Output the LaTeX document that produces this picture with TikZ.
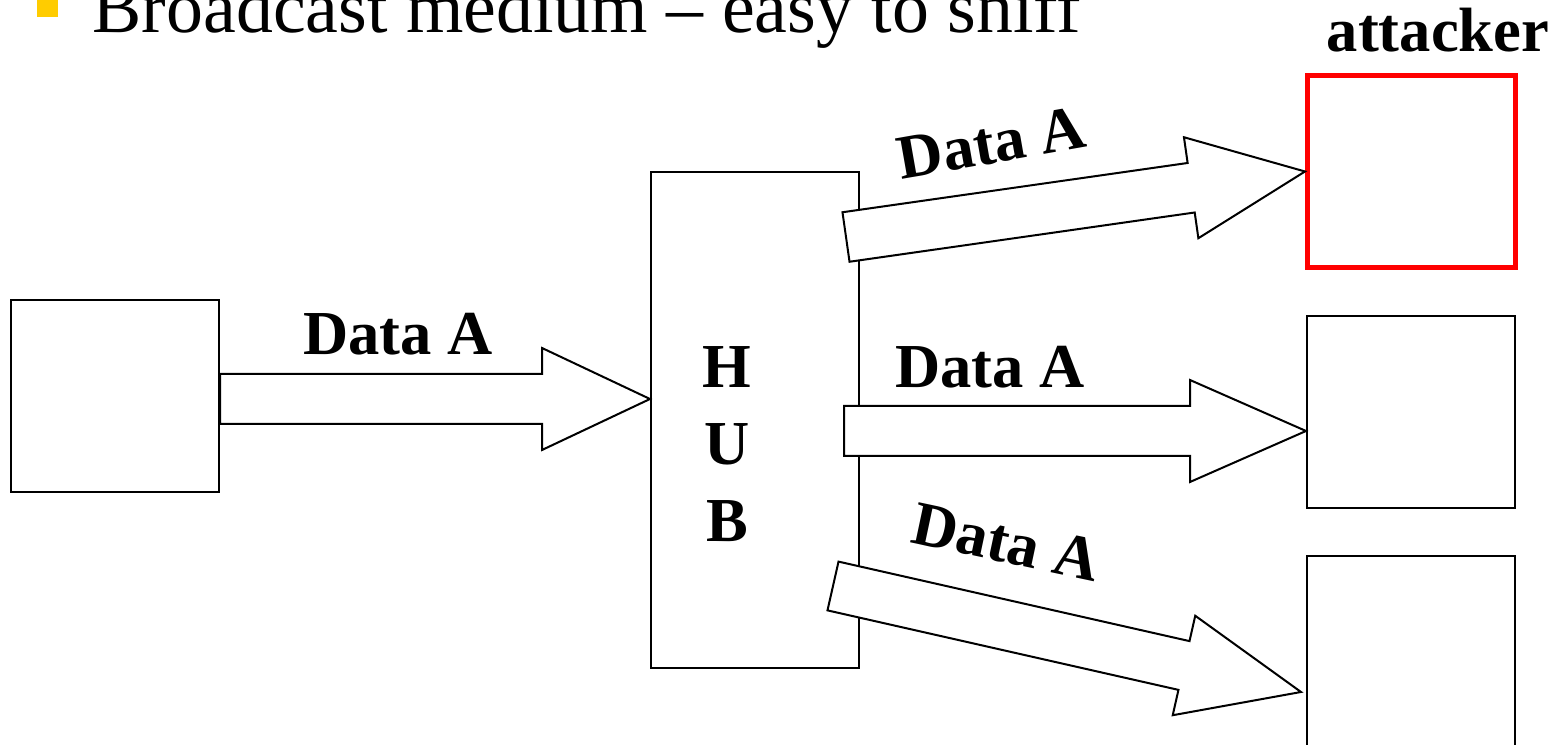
\documentclass[tikz,border=0pt]{standalone}
\usepackage{fontspec}
\setmainfont{Liberation Serif}
\usetikzlibrary{calc,positioning}
\definecolor{bulletcolor}{RGB}{255,204,0}
\definecolor{attackcolor}{RGB}{255,0,0}

\begin{document}
\begin{tikzpicture}[x=0.1mm, y=-0.1mm,
  box/.style={draw=black, line width=0.2mm, minimum width=20.8mm, minimum height=19.2mm, inner sep=0pt},
  fatarrow/.style={draw=black, line width=0.2mm, fill=white, line join=miter},
  lbl/.style={font=\bfseries\fontsize{17.8}{21.9}\selectfont, inner sep=0pt}
]
\useasboundingbox (0,0) rectangle (1566,745);

% ---- Bullet line (cut off at the top) ----
\node[fill=bulletcolor, minimum size=2.1mm, inner sep=0pt] (bullet) at (47.5,6.5) {};
\node[anchor=base west, inner sep=0pt, font=\fontsize{21}{25}\selectfont] (title) at (92,33)
  {Broadcast medium – easy to sniff};

% ---- Stations ----
\node[box] (src) at (115,396) {};
\node[box, minimum height=49.6mm] (hub) at (755,420) {};
\node[box, draw=attackcolor, line width=0.5mm] (atk) at (1411.5,171.5) {};
\node[box] (dst2) at (1411,412) {};
\node[box] (dst3) at (1411,652) {};

\node[lbl, anchor=base] (atklabel) at (1438,52) {attacker};
\node[lbl, align=center] (hublabel) at ($(hub.center)+(-28,24)$) {H\\U\\B};

% ---- Arrow ends ----
\coordinate (srcout) at ($(src.east)+(0,3)$);
\coordinate (hubin) at ($(hub.west)+(0,-21)$);
\coordinate (hubout1) at ($(hub.east)+(-14,-183)$);
\coordinate (hubout2) at ($(hub.east)+(-16,11)$);
\coordinate (tip2) at ($(dst2.west)+(0,19)$);
\coordinate (hubout3) at ($(hub.east)+(-27,166)$);
\coordinate (tip3) at ($(dst3.west)+(-5,40)$);

% ---- Fat arrows ----
\foreach \a/\b/\h in {srcout/hubin/10.8mm, hubout1/atk.west/11.5mm,
                      hubout2/tip2/11.6mm, hubout3/tip3/12mm} {
  \coordinate (hb) at ($(\b)!\h!(\a)$);
  \draw[fatarrow]
    ($(\a)!2.5mm!90:(\b)$) -- ($(hb)!2.5mm!90:(\b)$) -- ($(hb)!5.1mm!90:(\b)$)
    -- (\b)
    -- ($(hb)!5.1mm!-90:(\b)$) -- ($(hb)!2.5mm!-90:(\b)$) -- ($(\a)!2.5mm!-90:(\b)$)
    -- cycle;
}

% ---- Arrow labels ----
\node[lbl, anchor=base] (datain) at (398,355) {Data A};
\node[lbl, anchor=base, rotate=10] (dataout1) at (995,163) {Data A};
\node[lbl, anchor=base] (dataout2) at (990,388) {Data A};
\node[lbl, anchor=base, rotate=-12] (dataout3) at (1002,562) {Data A};

\end{tikzpicture}
\end{document}
